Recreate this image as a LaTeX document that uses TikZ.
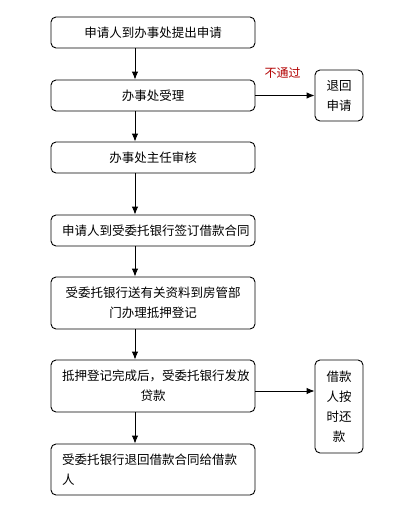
\documentclass[tikz,border=0pt]{standalone}
\usepackage{fontspec}
\setmainfont{Noto Sans CJK SC}
\usetikzlibrary{arrows.meta}

\begin{document}
\begin{tikzpicture}[x=1pt,y=-1pt,>={Latex[length=8pt,width=6.5pt]},
    box/.style={draw, line width=0.9pt, rounded corners=5pt, text width=182pt, inner xsep=11pt,
      minimum height=31pt, align=center, font=\fontsize{12.5pt}{20pt}\selectfont},
    sidebox/.style={box, text width=26pt},
    flow/.style={->, line width=0.9pt}]
        \useasboundingbox (0,0) rectangle (420,519);
        % Main steps
        \node[box] (apply) at (153,32.5) {申请人到办事处提出申请};
        \node[box] (accept) at (153,95.5) {办事处受理};
        \node[box] (review) at (153,157.5) {办事处主任审核};
        \node[box] (contract) at (153,230.5) {申请人到受委托银行签订借款合同};
        \node[box, minimum height=52pt] (register) at (153,303) {受委托银行送有关资料到房管部\\门办理抵押登记};
        \node[box, minimum height=52pt] (loan) at (153,386) {抵押登记完成后，受委托银行发放\\贷款};
        \node[box, minimum height=51pt, align=left] (back) at (153,469.5) {受委托银行退回借款合同给借款\\人};
        % Side boxes
        \node[sidebox, minimum height=51pt] (reject) at (339,95.5) {退回\\申请};
        \node[sidebox, minimum height=93pt] (repay) at (339,406.5) {借款\\人按\\时还\\款};
        % Down arrows
        \foreach \a/\b in {apply/accept, accept/review, review/contract, contract/register, register/loan, loan/back}
          \draw[flow] ([xshift=-18pt]\a.south) -- ([xshift=-18pt]\b.north);
        % Side arrows
        \draw[flow] (accept.east) -- (reject.west)
          node[pos=0.46, above=13pt, text=red!70!black, font=\fontsize{12pt}{14pt}\selectfont] (fail) {不通过};
        \draw[flow] ([yshift=-5pt]loan.east) -- ([yshift=-5pt]loan.east -| repay.west);
\end{tikzpicture}
\end{document}
